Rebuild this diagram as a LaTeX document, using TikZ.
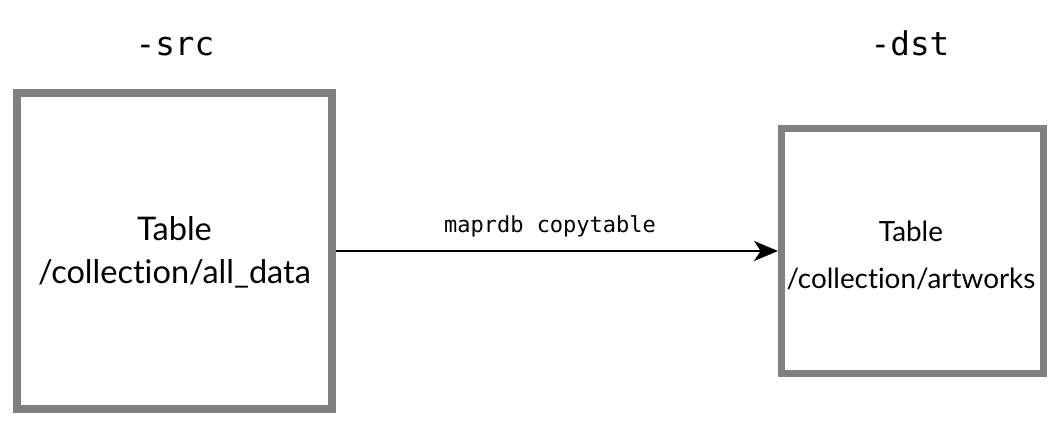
\documentclass[tikz,border=0pt]{standalone}
\usepackage{fontspec}
\setmainfont{Lato}[Ligatures=NoCommon]
\setmonofont{DejaVu Sans Mono}
\usetikzlibrary{arrows.meta}
\definecolor{boxgray}{HTML}{808080}
\begin{document}
\begin{tikzpicture}[
  x=0.75pt, y=-0.75pt,
  tablebox/.style={draw=boxgray, fill=white, inner sep=0pt},
  tablename/.style={align=center, inner sep=0pt},
  flag/.style={font=\ttfamily\fontsize{24.5}{28}\selectfont, anchor=base},
  cmd/.style={font=\ttfamily\fontsize{16.5}{20}\selectfont, anchor=base}
]
\useasboundingbox (0,0) rectangle (1060,426);
% source and destination tables
\node[tablebox, line width=6pt, minimum width=236pt, minimum height=237pt] (src) at (174.5,251) {};
\node[tablebox, line width=5.25pt, minimum width=196.5pt, minimum height=184pt] (dst) at (912.5,251) {};
\node[tablename, font=\fontsize{24.4}{32.25}\selectfont] (srcname) at (174.5,252.75) {Table\\/collection/all\_data};
\node[tablename, font=\fontsize{20.9}{35.25}\selectfont] (dstname) at (911,255.75) {Table\\/collection/artworks};
\node[flag] (srcflag) at (175,55) {-src};
\node[flag] (dstflag) at (910,55) {-dst};
\draw[line width=1.5pt, -{Stealth[length=18pt, width=15pt, inset=5pt]}] (src.east) -- (dst.west);
\node[cmd] (copy) at (550,232) {maprdb copytable};
\end{tikzpicture}
\end{document}
